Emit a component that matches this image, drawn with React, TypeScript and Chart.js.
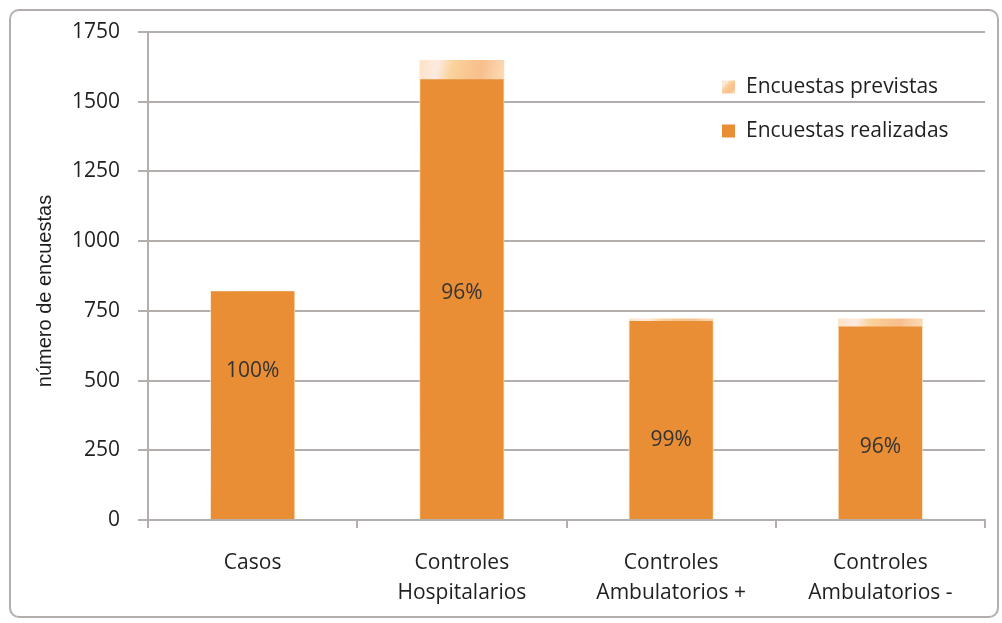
import React, { useEffect, useRef } from 'react';
import { Chart, registerables } from 'chart.js';

Chart.register(...registerables);

// ---- data ----
const categories: (string | string[])[] = [
  'Casos',
  ['Controles', 'Hospitalarios'],
  ['Controles', 'Ambulatorios +'],
  ['Controles', 'Ambulatorios -'],
];
const seriesNames = ['Encuestas previstas', 'Encuestas realizadas'];
const previstas = [820, 1650, 723, 723];
const realizadas = [820, 1581, 714, 694];
const percentLabels = ['100%', '96%', '99%', '96%'];
const percentLabelAt = [535, 815, 287, 262];
const yMin = 0;
const yMax = 1750;
const yStep = 250;
const yTitle = 'número de encuestas';

// ---- styles ----
const GRID = '#B4AFAD';
const TEXT = '#1F1F1F';
const ORANGE = '#E98E34';
const FONT = 'Open Sans';

function peachGradient(ctx: CanvasRenderingContext2D, x0: number, y0: number, x1: number, y1: number) {
  const g = ctx.createLinearGradient(x0, y0, x1, y1);
  g.addColorStop(0, '#FDE2C4');
  g.addColorStop(0.22, '#FCEAE2');
  g.addColorStop(0.38, '#FAD39C');
  g.addColorStop(0.58, '#F9C591');
  g.addColorStop(0.72, '#F8BF8E');
  g.addColorStop(1, '#FBDDB8');
  return g;
}

function previstasFill(c: any) {
  const chart = c.chart;
  const area = chart.chartArea;
  if (!area || c.type !== 'data' || !chart.scales.x || !chart.scales.y) return '#F9CFA0';
  const cx = chart.scales.x.getPixelForValue(c.dataIndex);
  const top = chart.scales.y.getPixelForValue(previstas[c.dataIndex]);
  const bot = chart.scales.y.getPixelForValue(realizadas[c.dataIndex]);
  const w = 86;
  return peachGradient(chart.ctx, cx - w / 2, top, cx + w / 2, Math.max(bot, top + 10));
}

const overlayPlugin = {
  id: 'overlay',
  afterDatasetsDraw(chart: any) {
    const { ctx, scales } = chart;
    ctx.save();
    ctx.font = `21px "${FONT}"`;
    ctx.fillStyle = '#333333';
    ctx.textAlign = 'center';
    ctx.textBaseline = 'middle';
    percentLabels.forEach((t, i) => {
      ctx.fillText(t, scales.x.getPixelForValue(i), scales.y.getPixelForValue(percentLabelAt[i]));
    });
    ctx.restore();
  },
  afterDraw(chart: any) {
    const { ctx, chartArea } = chart;
    ctx.save();
    // legend
    const mx = chartArea.right - 263;
    const items = [
      { y: chartArea.top + 55, fill: null as any },
      { y: chartArea.top + 99, fill: ORANGE },
    ];
    ctx.font = `21px "${FONT}"`;
    ctx.textAlign = 'left';
    ctx.textBaseline = 'middle';
    items.forEach((it, i) => {
      const s = 13;
      ctx.fillStyle = it.fill || peachGradient(ctx, mx, it.y - s / 2, mx + s, it.y + s / 2);
      ctx.fillRect(mx, it.y - s / 2, s, s);
      ctx.fillStyle = TEXT;
      ctx.fillText(seriesNames[i], mx + 24, it.y);
    });
    // y axis title
    ctx.translate(45, 291);
    ctx.rotate(-Math.PI / 2);
    ctx.font = `20px "Liberation Sans"`;
    ctx.fillStyle = '#1E1E1E';
    ctx.textAlign = 'center';
    ctx.textBaseline = 'middle';
    ctx.fillText(yTitle, 0, 0);
    ctx.restore();
  },
};

export default function App() {
  const ref = useRef<HTMLCanvasElement | null>(null);

  useEffect(() => {
    if (!ref.current) return;
    const chart = new Chart(ref.current, {
      type: 'bar',
      data: {
        labels: categories as any,
        datasets: [
          {
            label: seriesNames[0],
            data: previstas,
            backgroundColor: previstasFill as any,
            order: 1,
            barPercentage: 0.405,
            categoryPercentage: 1,
          },
          {
            label: seriesNames[1],
            data: realizadas,
            backgroundColor: ORANGE,
            order: 0,
            barPercentage: 0.398,
            categoryPercentage: 1,
          },
        ],
      },
      options: {
        animation: false,
        responsive: true,
        maintainAspectRatio: false,
        layout: { padding: { left: 0, top: 32, right: 17, bottom: 0 } },
        plugins: { legend: { display: false }, tooltip: { enabled: false } },
        scales: {
          x: {
            stacked: true,
            grid: {
              display: true,
              drawOnChartArea: false,
              drawTicks: true,
              tickLength: 8,
              color: GRID,
              lineWidth: 2,
              offset: true,
            },
            border: { display: true, color: GRID, width: 2 },
            ticks: {
              font: { family: FONT, size: 21, lineHeight: 1.43 },
              color: TEXT,
              padding: 20,
              maxRotation: 0,
              autoSkip: false,
            },
            afterFit: (s: any) => {
              s.height = 103;
            },
          },
          y: {
            stacked: false,
            min: yMin,
            max: yMax,
            ticks: {
              stepSize: yStep,
              font: { family: FONT, size: 21 },
              color: TEXT,
              padding: 18,
              callback: (v: any) => String(v),
            },
            grid: { color: GRID, lineWidth: 2, tickLength: 10 },
            border: { display: true, color: GRID, width: 2 },
            afterFit: (s: any) => {
              s.width = 148;
            },
          },
        },
      },
      plugins: [overlayPlugin],
    });
    return () => chart.destroy();
  }, []);

  return (
    <div style={{ position: 'absolute', left: 0, top: 0, width: 1002, height: 623, background: '#fff' }}>
      <div
        style={{
          position: 'absolute',
          left: 9,
          top: 9,
          width: 990,
          height: 609,
          border: `2px solid ${GRID}`,
          borderRadius: 10,
          boxSizing: 'border-box',
        }}
      />
      <canvas ref={ref} />
    </div>
  );
}
